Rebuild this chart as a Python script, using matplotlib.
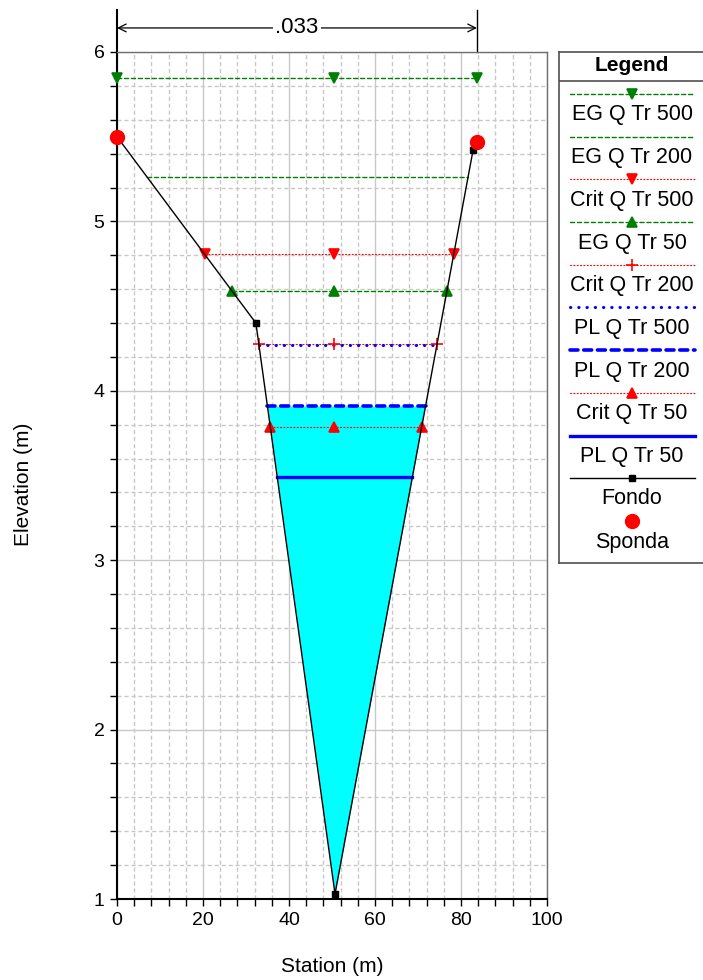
import numpy as np
import matplotlib
matplotlib.use("Agg")
import matplotlib.pyplot as plt
from matplotlib.ticker import MultipleLocator

plt.rcParams["font.family"] = ["Liberation Sans", "DejaVu Sans"]

# ground profile (Fondo)
ground_x = [0.0, 32.3, 50.7, 82.8, 83.7]
ground_y = [5.50, 4.40, 1.03, 5.42, 5.47]

# bank stations (Sponda)
bank_x = [0.0, 83.7]
bank_y = [5.50, 5.47]

# water surface profiles, in legend order
profiles = ["EG Q Tr 500", "EG Q Tr 200", "Crit Q Tr 500", "EG Q Tr 50",
            "Crit Q Tr 200", "PL Q Tr 500", "PL Q Tr 200", "Crit Q Tr 50",
            "PL Q Tr 50"]
levels = [5.847, 5.262, 4.806, 4.591, 4.274, 4.270, 3.910, 3.788, 3.491]
mid_station = 50.5
manning_n = ".033"

styles = {
    "EG Q Tr 500": dict(color="#008000", lw=1.0, ls=(0, (3, 2)), marker="v", ms=7),
    "EG Q Tr 200": dict(color="#008000", lw=1.0, ls=(0, (3, 2)), marker=None, ms=0),
    "Crit Q Tr 500": dict(color="#ff0000", lw=0.8, ls=(0, (1, 2)), marker="v", ms=7),
    "EG Q Tr 50": dict(color="#008000", lw=1.0, ls=(0, (3, 2)), marker="^", ms=7),
    "Crit Q Tr 200": dict(color="#ff0000", lw=0.8, ls=(0, (1, 2)), marker="+", ms=8),
    "PL Q Tr 500": dict(color="#0000ff", lw=2.2, ls=(0, (0.1, 2.6)), marker=None, ms=0),
    "PL Q Tr 200": dict(color="#0000ff", lw=2.6, ls=(0, (2.2, 1.6)), marker=None, ms=0),
    "Crit Q Tr 50": dict(color="#ff0000", lw=0.8, ls=(0, (1, 2)), marker="^", ms=7),
    "PL Q Tr 50": dict(color="#0000ff", lw=2.4, ls="-", marker=None, ms=0),
}

gx = np.array(ground_x)
gy = np.array(ground_y)
imin = int(np.argmin(gy))


def extent(level):
    left = np.interp(level, gy[:imin + 1][::-1], gx[:imin + 1][::-1])
    right = np.interp(level, gy[imin:], gx[imin:])
    return left, right


fig = plt.figure(figsize=(7.03, 9.80), dpi=100)
W, H = 703, 980
ax = fig.add_axes([117 / W, 1 - 899 / H, 430 / W, 847 / H])

# water fill under PL Q Tr 200
fill_level = levels[profiles.index("PL Q Tr 200")]
xf = np.linspace(gx.min(), gx.max(), 2000)
yf = np.interp(xf, gx, gy)
ax.fill_between(xf, yf, fill_level, where=yf < fill_level, color="#00ffff",
                lw=0, zorder=2)

for name, lev in zip(profiles, levels):
    st = styles[name]
    l, r = extent(lev)
    ax.plot([l, r], [lev, lev], color=st["color"], lw=st["lw"], ls=st["ls"],
            dash_capstyle="round", zorder=4)
    if st["marker"]:
        ax.plot([l, mid_station, r], [lev, lev, lev], ls="none",
                marker=st["marker"], color=st["color"], ms=st["ms"],
                mew=1.2, zorder=5, clip_on=False)

ax.plot(ground_x, ground_y, color="black", lw=1.0, marker="s", ms=4,
        zorder=6)
ax.plot(bank_x, bank_y, ls="none", marker="o", color="#ff0000", ms=10,
        zorder=7, clip_on=False)

ax.set_xlim(0, 100)
ax.set_ylim(1, 6)
ax.xaxis.set_major_locator(MultipleLocator(20))
ax.xaxis.set_minor_locator(MultipleLocator(4))
ax.yaxis.set_major_locator(MultipleLocator(1))
ax.yaxis.set_minor_locator(MultipleLocator(0.2))
ax.grid(which="major", color="#c8c8c8", lw=1.0, ls="-", zorder=0)
ax.grid(which="minor", color="#c8c8c8", lw=1.0, ls=(0, (3, 2)), zorder=0)
ax.set_axisbelow(True)
ax.tick_params(which="both", direction="out", length=5, width=1,
               labelsize=14, pad=4)
for s in ["left", "bottom"]:
    ax.spines[s].set_linewidth(1.5)
    ax.spines[s].set_color("black")
for s in ["top", "right"]:
    ax.spines[s].set_linewidth(1.0)
    ax.spines[s].set_color("#707070")

ax.set_xlabel("Station (m)", fontsize=15)
ax.set_ylabel("Elevation (m)", fontsize=15)
ax.xaxis.set_label_coords(0.5, -0.068)
ax.yaxis.set_label_coords(-0.195, 0.49)

# manning's n dimension line above the plot
top = 6.0
ax.plot([bank_x[0], bank_x[0]], [top, 6.248], color="black", lw=1.5,
        clip_on=False)
ax.plot([bank_x[1], bank_x[1]], [top, 6.248], color="black", lw=1.0,
        clip_on=False)
ax.annotate("", xy=(bank_x[0], 6.142), xytext=(bank_x[1], 6.142),
            arrowprops=dict(arrowstyle="<->", color="black", lw=0.9,
                            shrinkA=0, shrinkB=0, mutation_scale=14),
            annotation_clip=False)
ax.text(sum(bank_x) / 2, 6.142, manning_n, ha="center", va="center",
        fontsize=16, bbox=dict(facecolor="white", edgecolor="none", pad=2),
        clip_on=False)

# legend panel, drawn in pixel coordinates
lg = fig.add_axes([559 / W, 1 - 563 / H, 151 / W, 511 / H])
lg.set_xlim(559, 710)
lg.set_ylim(563, 52)
lg.set_xticks([])
lg.set_yticks([])
for s in lg.spines.values():
    s.set_color("#505050")
    s.set_linewidth(1.2)
lg.axhline(81.5, color="#505050", lw=1.2)
lg.text(632, 66, "Legend", ha="center", va="center", fontsize=15,
        fontweight="bold")

row = 42.7
for i, name in enumerate(profiles):
    st = styles[name]
    yl = 94 + i * row
    lg.plot([570, 695], [yl, yl], color=st["color"], lw=st["lw"],
            ls=st["ls"], dash_capstyle="round")
    if st["marker"]:
        lg.plot([632], [yl], marker=st["marker"], color=st["color"],
                ms=st["ms"], mew=1.2, ls="none")
    lg.text(632, yl + 21, name, ha="center", va="center", fontsize=15.5)

yl = 94 + len(profiles) * row
lg.plot([570, 695], [yl, yl], color="black", lw=1.0)
lg.plot([632], [yl], marker="s", color="black", ms=4, ls="none")
lg.text(632, yl + 20, "Fondo", ha="center", va="center", fontsize=15.5)
yl += row
lg.plot([632], [yl], marker="o", color="#ff0000", ms=10, ls="none")
lg.text(632, yl + 22, "Sponda", ha="center", va="center", fontsize=15.5)

fig.savefig("out.png", dpi=100)
